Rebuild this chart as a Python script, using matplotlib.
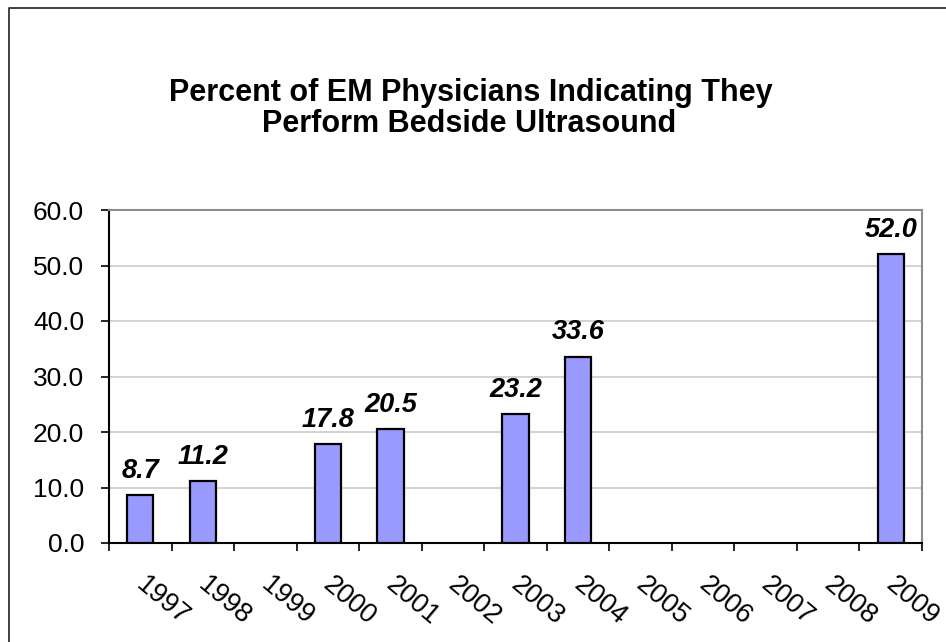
import numpy as np
import matplotlib
matplotlib.use("Agg")
import matplotlib.pyplot as plt
from matplotlib.lines import Line2D
from matplotlib.transforms import ScaledTranslation

years = ["1997", "1998", "1999", "2000", "2001", "2002", "2003",
         "2004", "2005", "2006", "2007", "2008", "2009"]
values = [8.7, 11.2, np.nan, 17.8, 20.5, np.nan, 23.2,
          33.6, np.nan, np.nan, np.nan, np.nan, 52.0]
yticks = [0, 10, 20, 30, 40, 50, 60]
title_lines = ["Percent of EM Physicians Indicating They",
               "Perform Bedside Ultrasound"]

plt.rcParams['font.family'] = ['Liberation Sans', 'DejaVu Sans']

W, H = 946, 642
fig = plt.figure(figsize=(W / 100, H / 100), dpi=100)
fig.patch.set_facecolor('white')

# outer frame (left and top edges visible)
fig.add_artist(Line2D([9 / W, 9 / W, 1.01], [-0.01, 1 - 7.5 / H, 1 - 7.5 / H],
                      transform=fig.transFigure, color='#333333', lw=1.3))

left, right, top, bottom = 109, 922, 210, 543
ax = fig.add_axes([left / W, 1 - bottom / H, (right - left) / W, (bottom - top) / H])

x = np.arange(len(years))
ax.bar(x, values, width=0.42, color='#9999FF', edgecolor='black', linewidth=1.6,
       zorder=3)

for xi, v in zip(x, values):
    if not np.isnan(v):
        ax.annotate(f"{v:.1f}", (xi, v), xytext=(0, 8), textcoords='offset points',
                    ha='center', va='bottom', fontsize=19.5, fontweight='bold',
                    fontstyle='italic', color='black')

ax.set_xlim(-0.5, len(years) - 0.5)
ax.set_ylim(0, 60)

ax.set_yticks(yticks)
ax.set_yticklabels([f"{t:.1f}" for t in yticks])
ax.tick_params(axis='y', direction='out', length=6, width=1.2, pad=12,
               labelsize=19, color='black')

# major x ticks at category boundaries, labels at minor ticks (centers)
ax.set_xticks(np.arange(len(years) + 1) - 0.5)
ax.set_xticklabels([])
ax.tick_params(axis='x', which='major', direction='out', length=6, width=1.2,
               color='black')
ax.set_xticks(x, minor=True)
ax.set_xticklabels(years, minor=True, rotation=-40, ha='left', va='top',
                   rotation_mode='anchor', fontsize=19.5)
ax.tick_params(axis='x', which='minor', length=0, pad=21)
shift = ScaledTranslation(7 / 100, 0, fig.dpi_scale_trans)
for lab in ax.get_xticklabels(minor=True):
    lab.set_transform(lab.get_transform() + shift)

ax.grid(axis='y', color='#c8c8c8', linewidth=1.1, zorder=0)
ax.set_axisbelow(True)

for s in ['left', 'bottom']:
    ax.spines[s].set_color('black')
    ax.spines[s].set_linewidth(1.5)
for s in ['top', 'right']:
    ax.spines[s].set_color('#8c8c8c')
    ax.spines[s].set_linewidth(1.5)

fig.text(471 / W, 1 - 101 / H, title_lines[0], ha='center', va='baseline',
         fontsize=22, fontweight='bold')
fig.text(469 / W, 1 - 132 / H, title_lines[1], ha='center', va='baseline',
         fontsize=22, fontweight='bold')

fig.savefig("out.png", dpi=100)
